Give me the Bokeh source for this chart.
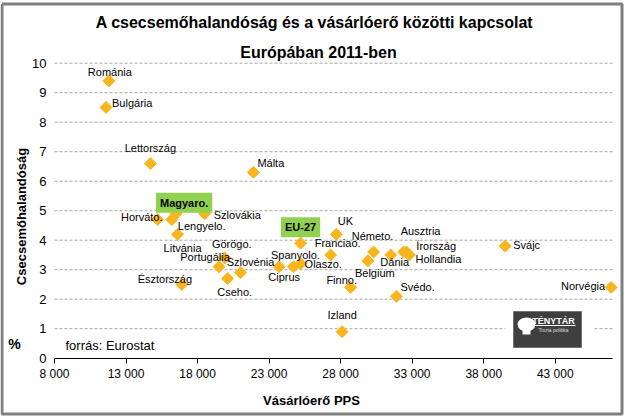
from bokeh.plotting import figure
from bokeh.models import ColumnDataSource, Label, FixedTicker, Range1d
from bokeh.core.properties import value
from bokeh.embed import file_html
from bokeh.resources import INLINE
import numpy as np

# ---- data ----
countries = ["Románia", "Bulgária", "Lettország", "Málta", "Magyaro.", "Lengyelo.", "Horváto.",
             "Szlovákia", "Litvánia", "Görögo.", "Portugália", "Szlovénia", "Cseho.", "Észtország",
             "EU-27", "Ciprus", "Spanyolo.", "Olaszo.", "UK", "Franciao.", "Németo.", "Belgium",
             "Dánia", "Ausztria", "Hollandia", "Írország", "Svájc", "Norvégia", "Finno.", "Svédo.",
             "Izland"]
pps = [11800, 11600, 14700, 21900, 16500, 16200, 15200,
       18500, 16600, 19900, 19500, 21000, 20100, 16900,
       25200, 23700, 24700, 25200, 27700, 27300, 30300, 29900,
       31500, 32400, 32600, 32800, 39500, 46900, 28700, 31900,
       28100]
imr = [9.4, 8.5, 6.6, 6.3, 4.9, 4.7, 4.7,
       4.9, 4.2, 3.4, 3.1, 2.9, 2.7, 2.5,
       3.9, 3.1, 3.1, 3.2, 4.2, 3.5, 3.6, 3.3,
       3.5, 3.6, 3.6, 3.5, 3.8, 2.4, 2.4, 2.1,
       0.9]
highlighted = ["Magyaro.", "EU-27"]

x_tick_values = [8000, 13000, 18000, 23000, 28000, 33000, 38000, 43000]
x_tick_labels = ["8 000", "13 000", "18 000", "23 000", "28 000", "33 000", "38 000", "43 000"]
y_tick_values = [0, 1, 2, 3, 4, 5, 6, 7, 8, 9, 10]
x_lo, x_hi = 8000, 47000
y_lo, y_hi = 0, 10

# ---- label placement (screen pixels, y down) ----
label_place = {
    "Románia": (1, -9, "center"), "Bulgária": (6, -4, "left"), "Lettország": (0, -16, "center"),
    "Málta": (4, -9, "left"), "Magyaro.": (8, -11, "center"), "Lengyelo.": (6, 6, "left"),
    "Horváto.": (5, -3, "right"), "Szlovákia": (9, 1, "left"), "Litvánia": (5, 14, "center"),
    "Görögo.": (7, -14, "center"), "Portugália": (-14, -10, "center"), "Szlovénia": (10, -11, "center"),
    "Cseho.": (7, 13, "center"), "Észtország": (-17, -5, "center"), "EU-27": (0, -16, "center"),
    "Ciprus": (5, 10, "center"), "Spanyolo.": (2, -12, "center"), "Olaszo.": (4, 0, "left"),
    "UK": (9, -13, "center"), "Franciao.": (7, -12, "center"), "Németo.": (-1, -16, "center"),
    "Belgium": (7, 12, "center"), "Dánia": (4, 7, "center"), "Ausztria": (17, -21, "center"),
    "Hollandia": (9, 7, "left"), "Írország": (7, -9, "left"), "Svájc": (8, -1, "left"),
    "Norvégia": (-6, -1, "right"), "Finno.": (-9, -7, "center"), "Svédo.": (4, -9, "left"),
    "Izland": (0, -17, "center"),
}

FONT = "Liberation Sans"
W, H = 627, 419
# plot area inside the canvas (pixels, y down)
PL, PR, PT, PB = 54, 612, 62.7, 357.7
xpp = (x_hi - x_lo) / (PR - PL)
ypp = (y_hi - y_lo) / (PB - PT)
X0, X1 = x_lo - PL * xpp, x_hi + (W - PR) * xpp
Y0, Y1 = y_lo - (H - PB) * ypp, y_hi + PT * ypp


def px_x(px):
    return X0 + px * xpp


def px_y(py):
    return Y1 - py * ypp


p = figure(width=W, height=H, output_backend="svg", toolbar_location=None,
           x_range=Range1d(X0, X1), y_range=Range1d(Y0, Y1),
           min_border_left=0, min_border_right=0, min_border_top=0, min_border_bottom=0)
p.outline_line_color = None
p.background_fill_color = "white"
p.border_fill_color = "white"
p.xgrid.visible = False
p.ygrid.visible = False

# axes drawn at fixed locations inside the canvas
p.xaxis.fixed_location = y_lo
p.xaxis.bounds = (x_lo, x_hi)
p.xaxis.ticker = FixedTicker(ticks=x_tick_values)
p.xaxis.major_label_overrides = {v: s for v, s in zip(x_tick_values, x_tick_labels)}
p.xaxis.axis_line_color = "black"
p.xaxis.major_tick_line_color = "black"
p.xaxis.major_tick_out = 5
p.xaxis.major_tick_in = 0
p.xaxis.minor_tick_line_color = None
p.xaxis.major_label_text_font = FONT
p.xaxis.major_label_text_font_size = "12px"
p.xaxis.major_label_text_color = "black"
p.xaxis.major_label_standoff = 4

p.yaxis.fixed_location = x_lo
p.yaxis.bounds = (y_lo, y_hi)
p.yaxis.ticker = FixedTicker(ticks=y_tick_values)
p.yaxis.axis_line_color = None
p.yaxis.major_tick_line_color = None
p.yaxis.minor_tick_line_color = None
p.yaxis.major_tick_out = 0
p.yaxis.major_label_text_font = FONT
p.yaxis.major_label_text_font_size = "13px"
p.yaxis.major_label_text_color = "black"
p.yaxis.major_label_standoff = 8

# horizontal dashed gridlines
grid_y = [v for v in y_tick_values if v > y_lo]
p.segment(x0=[x_lo] * len(grid_y), x1=[x_hi] * len(grid_y), y0=grid_y, y1=grid_y,
          line_color="#A6A6A6", line_width=1, line_dash="3 2")

# logo (decoration, placed in pixels)
p.quad(left=px_x(505), right=px_x(593), top=px_y(304), bottom=px_y(352),
       fill_color="white", line_color=None)
p.quad(left=px_x(513), right=px_x(581), top=px_y(311), bottom=px_y(347),
       fill_color="#3F3F3F", line_color="#707070")
p.ellipse(x=px_x(526), y=px_y(324), width=18 * xpp, height=14 * ypp, fill_color="white", line_color=None)
p.quad(left=px_x(522), right=px_x(530), top=px_y(328), bottom=px_y(334), fill_color="white", line_color=None)
p.add_layout(Label(x=px_x(553), y=px_y(320), text="TÉNYTÁR", text_font=FONT, text_font_style="bold",
                   text_font_size="9px", text_color="white", text_align="center", text_baseline="middle"))
p.segment(x0=px_x(533), x1=px_x(575), y0=px_y(325), y1=px_y(325), line_color="white", line_width=1)
p.add_layout(Label(x=px_x(553), y=px_y(329), text="Tiszta politika", text_font=FONT,
                   text_font_size="5px", text_color="#DDDDDD", text_align="center", text_baseline="middle"))

# outer grey frame (pixels) drawn as a polyline
fl, fr, ft, fb = 1.5, 621.5, 3.5, 413.5
p.line(x=[px_x(fl), px_x(fr), px_x(fr), px_x(fl), px_x(fl)],
       y=[px_y(ft), px_y(ft), px_y(fb), px_y(fb), px_y(ft)],
       line_color="#7F7F7F", line_width=3)

# points
src = ColumnDataSource(dict(
    x=pps, y=imr, name=countries,
    dx=[label_place[c][0] for c in countries],
    dy=[label_place[c][1] for c in countries],
    align=[label_place[c][2] for c in countries],
    label=["" if c in highlighted else c for c in countries],
))
p.scatter(x="x", y="y", source=src, marker="square", angle=np.pi / 4, size=8.5,
          fill_color="#F9B51E", line_color="#F9B51E")
p.text(x="x", y="y", text="label", x_offset="dx", y_offset="dy", text_align="align",
       text_baseline="middle", text_font=value(FONT), text_font_size="11px",
       text_color="black", source=src)

for c in highlighted:
    i = countries.index(c)
    dx, dy, al = label_place[c]
    p.add_layout(Label(x=pps[i], y=imr[i], x_offset=dx, y_offset=-dy, text=c,
                       text_font=FONT, text_font_style="bold", text_font_size="11px",
                       text_color="black", text_align="center", text_baseline="middle",
                       background_fill_color="#92D050", padding=4))


# texts around the plot (given in pixels from the top-left)
def slabel(x, y, text, size, style="normal", align="center", angle=0.0):
    p.add_layout(Label(x=x, y=H - y, x_units="screen", y_units="screen", text=text,
                       text_font=FONT, text_font_size=size, text_font_style=style,
                       text_color="black", text_align=align, text_baseline="middle", angle=angle))


slabel(314, 22, "A csecsemőhalandóság és a vásárlóerő közötti kapcsolat", "16px", "bold")
slabel(318, 52, "Európában 2011-ben", "16px", "bold")
slabel(311, 400, "Vásárlóerő PPS", "13px", "bold")
slabel(21, 216, "Csecsemőhalandóság", "13px", "bold", angle=np.pi / 2)
slabel(14, 343, "%", "14px", "bold")
slabel(65, 345, "forrás: Eurostat", "13px", "normal", "left")

open("out.html", "w").write(file_html(p, INLINE))
